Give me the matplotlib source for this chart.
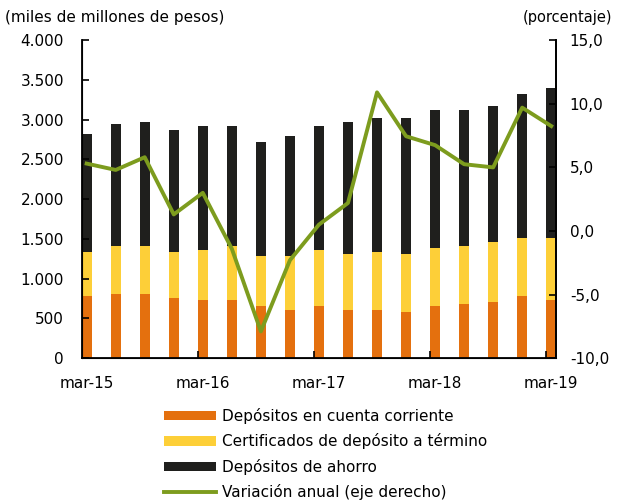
import matplotlib.pyplot as plt
import numpy as np
from matplotlib.ticker import FuncFormatter

plt.rcParams['font.family'] = ['DejaVu Sans']

# trimestres mar-15 .. mar-19
periodos = ['mar-15', 'jun-15', 'sep-15', 'dic-15', 'mar-16', 'jun-16', 'sep-16', 'dic-16',
            'mar-17', 'jun-17', 'sep-17', 'dic-17', 'mar-18', 'jun-18', 'sep-18', 'dic-18', 'mar-19']
# niveles acumulados (miles de millones)
cuenta_corriente = [784, 809, 809, 759, 734, 734, 658, 608, 658, 608, 608, 583, 658, 683, 708, 784, 734]
cdt_tope = [1337, 1413, 1413, 1337, 1362, 1413, 1287, 1287, 1362, 1312, 1337, 1312, 1388, 1413, 1463, 1513, 1513]
total = [2818, 2944, 2969, 2873, 2919, 2919, 2717, 2793, 2919, 2969, 3019, 3019, 3120, 3120, 3170, 3321, 3397]
variacion = [5.3, 4.8, 5.8, 1.3, 3.0, -1.4, -7.9, -2.3, 0.5, 2.2, 10.9, 7.45, 6.75, 5.25, 5.0, 9.7, 8.25]

cdt = [t - c for t, c in zip(cdt_tope, cuenta_corriente)]
ahorro = [t - c for t, c in zip(total, cdt_tope)]

naranja = '#E4700E'
amarillo = '#FDCF38'
negro = '#1F1F1D'
verde = '#7D9C1E'

fig = plt.figure(figsize=(6.26, 5.03), dpi=100)
ax = fig.add_axes([0.131, 0.288, 0.757, 0.632])
x = np.arange(len(periodos))
w = 0.35
b1 = ax.bar(x, cuenta_corriente, w, color=naranja, edgecolor='none')
b2 = ax.bar(x, cdt, w, bottom=cuenta_corriente, color=amarillo, edgecolor='none')
b3 = ax.bar(x, ahorro, w, bottom=cdt_tope, color=negro, edgecolor='none')

ax.set_xlim(-0.16, 16.16)
ax.set_ylim(0, 4000)
ax.set_yticks(np.arange(0, 4001, 500))
ax.yaxis.set_major_formatter(FuncFormatter(lambda v, p: f'{int(v):,}'.replace(',', '.')))
ax.set_xticks([0, 4, 8, 12, 16])
ax.set_xticklabels(['mar-15', 'mar-16', 'mar-17', 'mar-18', 'mar-19'])
ax.tick_params(axis='x', length=0, pad=13, labelsize=11)
ax.set_xticks([i - 0.17 for i in (4, 8, 12, 16)], minor=True)
ax.tick_params(axis='x', which='minor', direction='in', length=5, width=1.2)
ax.tick_params(axis='y', direction='in', length=5, width=1.2, labelsize=11, pad=13)
ax.spines['top'].set_visible(False)
for s in ['left', 'bottom', 'right']:
    ax.spines[s].set_linewidth(1.3)

ax2 = ax.twinx()
l1, = ax2.plot(x, variacion, color=verde, lw=2.8)
ax2.set_ylim(-10, 15)
ax2.set_yticks(np.arange(-10, 15.1, 5))
ax2.yaxis.set_major_formatter(FuncFormatter(lambda v, p: f'{v:.1f}'.replace('.', ',')))
ax2.tick_params(axis='y', direction='in', length=5, width=1.2, labelsize=11, pad=10)
ax2.spines['top'].set_visible(False)
ax2.spines['right'].set_linewidth(1.3)

fig.text(0.008, 0.965, '(miles de millones de pesos)', fontsize=11, ha='left', va='center')
fig.text(0.978, 0.965, '(porcentaje)', fontsize=10.5, ha='right', va='center')

fig.legend([b1, b2, b3, l1],
           ['Depósitos en cuenta corriente', 'Certificados de depósito a término',
            'Depósitos de ahorro', 'Variación anual (eje derecho)'],
           loc='upper left', bbox_to_anchor=(0.25, 0.204), frameon=False, fontsize=11,
           handlelength=3.4, handleheight=0.6, labelspacing=0.62, handletextpad=0.4,
           borderpad=0)

fig.savefig('out.png', dpi=100)
